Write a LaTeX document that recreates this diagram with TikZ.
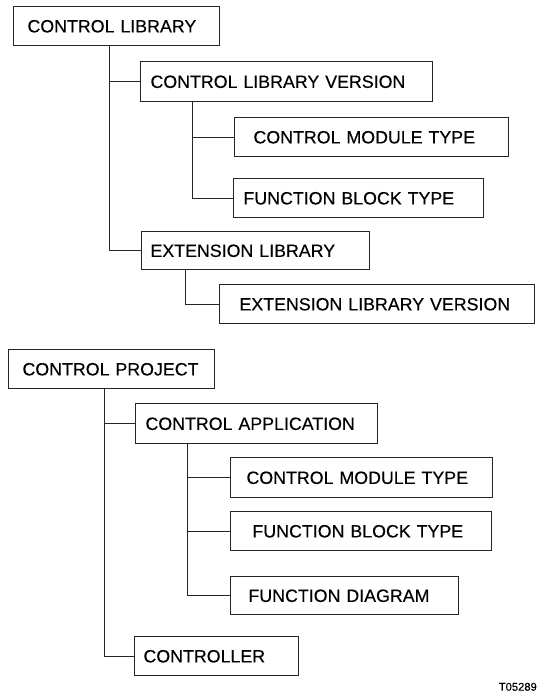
\documentclass[tikz,border=0pt]{standalone}
\usepackage{fontspec}
\setmainfont{Liberation Sans}
\newfontfamily\dfont{Liberation Sans}[FakeBold=0.3]
\usetikzlibrary{calc}
\begin{document}
\begin{tikzpicture}[x=1bp,y=-1bp,
  box/.style={draw=black!85, line width=1bp, inner sep=0pt, anchor=north west, align=left,
    text height=12.8bp, text depth=0pt, font=\dfont\fontsize{17.8bp}{20bp}\selectfont},
  conn/.style={draw=black!85, line width=1bp}]
\useasboundingbox (0,0) rectangle (537,700);
% top tree
\node[box, text width=206bp, minimum height=39bp] (cl)  at (13,6)    {\hspace*{14bp}CONTROL LIBRARY};
\node[box, text width=292bp, minimum height=40bp] (clv) at (140,61)  {\hspace*{10bp}CONTROL LIBRARY VERSION};
\node[box, text width=274bp, minimum height=39bp] (cmt) at (234,117) {\hspace*{19bp}CONTROL MODULE TYPE};
\node[box, text width=250bp, minimum height=39bp] (fbt) at (233,178) {\hspace*{10bp}FUNCTION BLOCK TYPE};
\node[box, text width=228bp, minimum height=38bp] (el)  at (141,231) {\hspace*{9bp}EXTENSION LIBRARY};
\node[box, text width=315bp, minimum height=39bp] (elv) at (219,284) {\hspace*{20bp}EXTENSION LIBRARY VERSION};
% bottom tree
\node[box, text width=206bp, minimum height=39bp] (cp)   at (8,349)   {\hspace*{14bp}CONTROL PROJECT};
\node[box, text width=242bp, minimum height=40bp] (ca)   at (135,403) {\hspace*{10bp}CONTROL APPLICATION};
\node[box, text width=262bp, minimum height=40bp] (cmt2) at (230,457) {\hspace*{16bp}CONTROL MODULE TYPE};
\node[box, text width=261bp, minimum height=39bp] (fbt2) at (230,511) {\hspace*{22bp}FUNCTION BLOCK TYPE};
\node[box, text width=228bp, minimum height=38bp] (fd)   at (230,576) {\hspace*{18bp}FUNCTION DIAGRAM};
\node[box, text width=164bp, minimum height=39bp] (ctrl) at (134,636) {\hspace*{9bp}CONTROLLER};
% connectors
\path[conn] ($(cl.south west)+(96,0)$) |- (clv.west);
\path[conn] ($(cl.south west)+(96,0)$) |- (el.west);
\path[conn] ($(clv.south west)+(52,0)$) |- (cmt.west);
\path[conn] ($(clv.south west)+(52,0)$) |- (fbt.west);
\path[conn] ($(el.south west)+(44,0)$) |- (elv.west);
\path[conn] ($(cp.south west)+(96,0)$) |- (ca.west);
\path[conn] ($(cp.south west)+(96,0)$) |- (ctrl.west);
\path[conn] ($(ca.south west)+(52,0)$) |- (cmt2.west);
\path[conn] ($(ca.south west)+(52,0)$) |- (fbt2.west);
\path[conn] ($(ca.south west)+(52,0)$) |- (fd.west);
% figure id
\node[anchor=south east, inner sep=0pt, font=\dfont\fontsize{11.2bp}{13bp}\selectfont] (id) at (537,691) {T05289};
\end{tikzpicture}
\end{document}
